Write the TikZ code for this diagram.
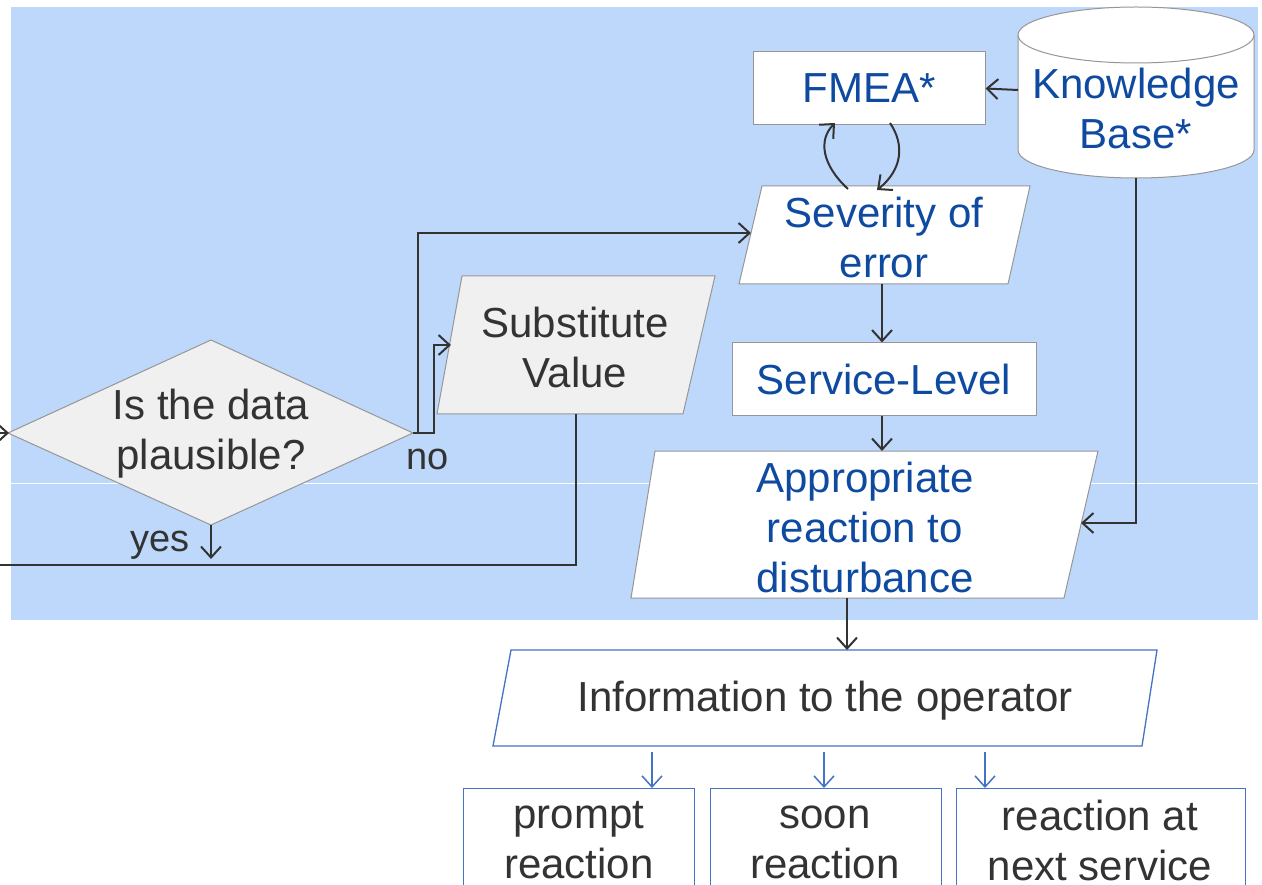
\documentclass[tikz,border=0pt]{standalone}
\usepackage{fontspec}
\setmainfont{Liberation Sans}
\usetikzlibrary{arrows.meta}
\definecolor{bgblue}{RGB}{190,216,251}
\definecolor{tblue}{RGB}{14,74,160}
\definecolor{tgray}{RGB}{51,51,51}
\definecolor{lfill}{RGB}{240,240,240}
\definecolor{sborder}{RGB}{150,150,150}
\definecolor{iblue}{RGB}{68,114,196}
\definecolor{adark}{RGB}{51,51,51}
\tikzset{
  big/.style={font=\fontsize{42}{50}\selectfont, align=center, inner sep=0pt},
  bluetxt/.style={big, text=tblue},
  graytxt/.style={big, text=tgray},
  shapeW/.style={draw=sborder, line width=1pt, fill=white},
  shapeG/.style={draw=sborder, line width=1pt, fill=lfill},
  rectW/.style={shapeW, rectangle, inner sep=0pt},
  infobox/.style={draw=iblue, line width=1.3pt, rectangle, inner sep=0pt, fill=white},
  arr/.style={draw=adark, line width=2pt, -{Straight Barb[length=11pt,width=20pt,line width=2pt]}},
  line/.style={draw=adark, line width=2pt},
  barr/.style={draw=iblue, line width=1.5pt, -{Straight Barb[length=11pt,width=20pt,line width=1.5pt]}},
}
\begin{document}
\begin{tikzpicture}[x=1pt,y=-1pt]
\useasboundingbox (0,0) rectangle (1262,885);
% background panel
\fill[bgblue] (11,7) rectangle (1258,620);
\draw[white, line width=1pt] (11,483) -- (1258,483);

% Knowledge base cylinder
\path[shapeW] (1018,35) -- (1018,150) arc[start angle=180, end angle=0, x radius=118, y radius=28] -- (1254,35);
\path[shapeW] (1136,35) ellipse[x radius=118, y radius=28];
\node[bluetxt] (kb) at (1136,108) {Knowledge\\Base*};
\coordinate (kbW) at (1018,90);
\coordinate (kbS) at (1136,178);

% FMEA
\node[rectW, minimum width=232pt, minimum height=73pt] (fmea) at (869,88.5) {};
\node[bluetxt] (fmeat) at (fmea.center) {FMEA*};

% Severity of error
\path[shapeW] (762,186) -- (1030,186) -- (1008,284) -- (739,284) -- cycle;
\node[bluetxt] (sev) at (884,237) {Severity of\\error};
\coordinate (sevN1) at (848,189);
\coordinate (sevN2) at (877,190);
\coordinate (sevW) at (751,233);
\coordinate (sevS) at (882,284);

% Service-Level
\node[rectW, minimum width=304pt, minimum height=73pt] (sl) at (884,379.5) {};
\node[bluetxt] (slt) at (sl.center) {Service-Level};

% Appropriate reaction
\path[shapeW] (655,451) -- (1098,451) -- (1064,598) -- (631,598) -- cycle;
\node[bluetxt] (app) at (865,527) {Appropriate\\reaction to\\disturbance};
\coordinate (appN) at (882,451);
\coordinate (appE) at (1081,523);
\coordinate (appS) at (847,598);

% Substitute value
\path[shapeG] (462,276) -- (715,276) -- (683,414) -- (437,414) -- cycle;
\node[graytxt] (sub) at (575,347) {Substitute\\Value};
\coordinate (subW) at (451,345);
\coordinate (subS) at (576,414);

% Decision diamond
\path[shapeG] (8,433) -- (211,340) -- (413,433) -- (211,525) -- cycle;
\node[graytxt] (dia) at (211,434) {Is the data\\plausible?};
\coordinate (diaE) at (413,433);
\coordinate (diaW) at (9,433);
\coordinate (diaS) at (211,525);
\coordinate (inL) at (-5,433);
\coordinate (outL) at (-5,565);

% labels
\node[graytxt, font=\fontsize{38}{46}\selectfont] (no) at (428,459) {no};
\node[graytxt, font=\fontsize{38}{46}\selectfont] (yes) at (160,545) {yes};

% Information to operator
\path[draw=iblue, line width=1.3pt, fill=white] (511,650) -- (1157,650) -- (1142,746) -- (493,746) -- cycle;
\node[graytxt] (info) at (825,701) {Information to the operator};
\coordinate (infoN) at (847,650);
\coordinate (infoS1) at (652,752);
\coordinate (infoS2) at (824,752);
\coordinate (infoS3) at (985,752);

% bottom boxes
\node[infobox, minimum width=231pt, minimum height=130pt, anchor=north west] (b1) at (463,788) {};
\node[infobox, minimum width=231pt, minimum height=130pt, anchor=north west] (b2) at (710,788) {};
\node[infobox, minimum width=289pt, minimum height=130pt, anchor=north west] (b3) at (956,788) {};
\node[graytxt] (b1t) at (579,840) {prompt\\reaction};
\node[graytxt] (b2t) at (825,842) {soon\\reaction};
\node[graytxt] (b3t) at (1100,840) {reaction at\\next service};

% connectors
\draw[arr] (kbW) -- (fmea.east);
\draw[arr] (sevN1) .. controls (822,165) and (818,140) .. (835,123);
\draw[arr] (890,123) .. controls (905,145) and (902,170) .. (sevN2);
\draw[arr] (sevS) -- (sevS |- sl.north);
\draw[arr] (sl.south -| appN) -- (appN);
\draw[arr] (kbS) |- (appE);
\draw[arr] (appS) -- (infoN);
\draw[arr] (diaE) -- (418,433) |- (sevW);
\draw[arr] (diaE) -- (434,433) |- (subW);
\draw[arr] (inL) -- (diaW);
\draw[arr] (diaS) -- ++(0,34);
\draw[line] (subS) |- (outL);
\draw[barr] (infoS1) -- (infoS1 |- b1.north);
\draw[barr] (infoS2) -- (infoS2 |- b2.north);
\draw[barr] (infoS3) -- (infoS3 |- b3.north);
\end{tikzpicture}
\end{document}
